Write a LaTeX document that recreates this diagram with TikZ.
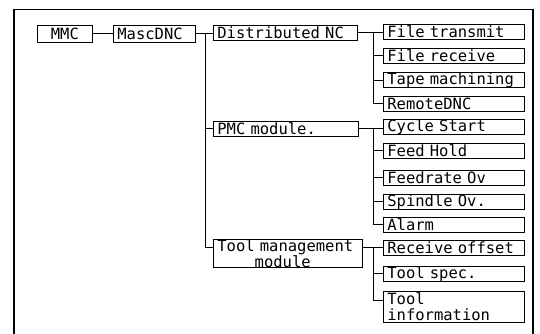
\documentclass[tikz,border=0pt]{standalone}
\usepackage{fontspec}
\newfontfamily\boxfont{DejaVu Sans Mono}
\begin{document}
\begin{tikzpicture}[x=1pt,y=-1pt,
  box/.style={draw, line width=0.8pt, rectangle, anchor=north west, inner xsep=4pt, inner ysep=0pt,
    align=left, font=\boxfont\fontsize{15.5}{13.5}\selectfont, minimum height=15pt},
  rbox/.style={box, text width=133pt},
  conn/.style={line width=0.9pt}]
\useasboundingbox (0,0) rectangle (540,334);
% frame
\draw[line width=2.5pt] (14,9) -- (14,334);
\draw[line width=0.7pt] (14,9) -- (533,9);
\draw[line width=2pt] (533,9) -- (533,334);
% left nodes
\node[box, text width=47pt, align=center, minimum height=17pt] (mmc) at (37,25) {MMC};
\node[box, text width=74pt, minimum height=17pt] (masc) at (113,25) {MascDNC};
\node[box, text width=136pt] (dnc) at (213,25) {Distributed NC};
\node[box, text width=137pt] (pmc) at (213,121) {PMC module.};
\node[box, text width=141pt, minimum height=28pt] (tool) at (213,239) {Tool management\\\phantom{Tool}module};
% right column
\node[rbox] (ft) at (383,24) {File transmit};
\node[rbox] (fr) at (383,48) {File receive};
\node[rbox] (tm) at (383,72) {Tape machining};
\node[rbox] (rd) at (383,96) {RemoteDNC};
\node[rbox] (cs) at (383,119) {Cycle Start};
\node[rbox] (fh) at (383,143) {Feed Hold};
\node[rbox] (fo) at (383,170) {Feedrate Ov};
\node[rbox] (so) at (383,194) {Spindle Ov.};
\node[rbox] (al) at (383,217) {Alarm};
\node[rbox] (ro) at (383,240) {Receive offset};
\node[rbox] (ts) at (383,266) {Tool spec.};
\node[rbox, minimum height=31pt] (ti) at (383,291) {Tool\\[2pt]information};
% buses
\coordinate (bus1) at (205,0);
\coordinate (bus2) at (373,0);
\coordinate (tooltapw) at ([yshift=-8pt]tool.north west);
\coordinate (tooltape) at ([yshift=-8pt]tool.north east);
\coordinate (titap) at ([yshift=-9pt]ti.north west);
\draw[conn] (mmc.east) -- (masc.west);
\draw[conn] (masc.east) -- (dnc.west |- masc.east);
\draw[conn] (bus1 |- masc.east) |- (tooltapw);
\draw[conn] (bus1 |- pmc.west) -- (pmc.west);
% distributed NC
\draw[conn] (dnc.east) -- (ft.west |- dnc.east);
\draw[conn] (bus2 |- dnc.east) |- (rd.west);
\draw[conn] (bus2 |- fr.west) -- (fr.west);
\draw[conn] (bus2 |- tm.west) -- (tm.west);
% PMC
\draw[conn] (pmc.east) -- (cs.west |- pmc.east);
\draw[conn] (bus2 |- pmc.east) |- (al.west);
\draw[conn] (bus2 |- fh.west) -- (fh.west);
\draw[conn] (bus2 |- fo.west) -- (fo.west);
\draw[conn] (bus2 |- so.west) -- (so.west);
% Tool
\draw[conn] (tooltape) -- (ro.west |- tooltape);
\draw[conn] (bus2 |- tooltape) |- (titap);
\draw[conn] (bus2 |- ts.west) -- (ts.west);
\end{tikzpicture}
\end{document}
